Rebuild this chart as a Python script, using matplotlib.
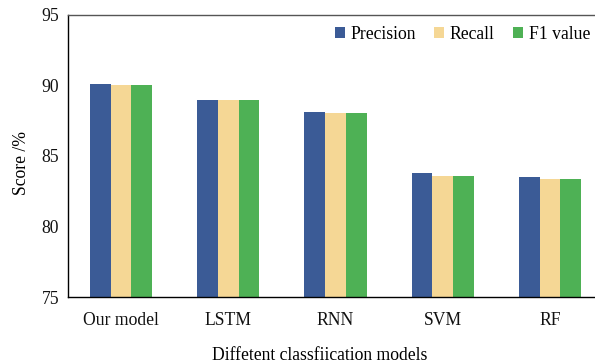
import matplotlib
matplotlib.use("Agg")
import matplotlib.pyplot as plt
import numpy as np

categories = ["Our model", "LSTM", "RNN", "SVM", "RF"]
precision = [90.1, 89.0, 88.1, 83.8, 83.5]
recall = [90.0, 89.0, 88.05, 83.55, 83.35]
f1_value = [90.03, 89.0, 88.05, 83.6, 83.4]
series_names = ["Precision", "Recall", "F1 value"]
colors = ["#3B5B96", "#F5D795", "#4EB155"]

plt.rcParams["font.family"] = ["Liberation Serif", "DejaVu Serif"]
FS = 12.7

W, H = 595, 364
fig = plt.figure(figsize=(W / 100, H / 100), dpi=100)
ax = fig.add_axes([67.5 / W, 1 - 297 / H, 536 / W, 282 / H])

x = np.arange(len(categories))
w = 0.194
for i, (vals, name, c) in enumerate(zip([precision, recall, f1_value], series_names, colors)):
    ax.bar(x + (i - 1) * w, vals, width=w, color=c, label=name, zorder=2)

ax.set_xlim(-0.5, len(categories) - 0.5)
ax.set_ylim(75, 95)
ax.set_yticks([75, 80, 85, 90, 95])
ax.set_xticks(x)
ax.set_xticklabels(categories)
ax.tick_params(axis="both", length=0, labelsize=FS, colors="#111111")
ax.tick_params(axis="x", pad=11)
ax.tick_params(axis="y", pad=6)

ax.spines["right"].set_visible(False)
ax.spines["top"].set_color("#555555")
ax.spines["top"].set_linewidth(1.0)
ax.spines["left"].set_linewidth(1.0)
ax.spines["bottom"].set_linewidth(1.0)

ax.set_ylabel("Score /%", fontsize=FS, va="center", ha="center")
ax.yaxis.set_label_coords(21 / W, 1 - 163 / H, transform=fig.transFigure)
ax.set_xlabel("Diffetent classfiication models", fontsize=FS, va="center", ha="center")
ax.xaxis.set_label_coords(320 / W, 1 - 356 / H, transform=fig.transFigure)

leg = ax.legend(loc="upper right", bbox_to_anchor=(590 / W, 1 - 26 / H),
                bbox_transform=fig.transFigure, ncol=3, frameon=False,
                fontsize=FS, handlelength=0.58, handleheight=0.58,
                handletextpad=0.3, columnspacing=1.05, borderaxespad=0,
                borderpad=0)

fig.savefig("out.png", dpi=100)
